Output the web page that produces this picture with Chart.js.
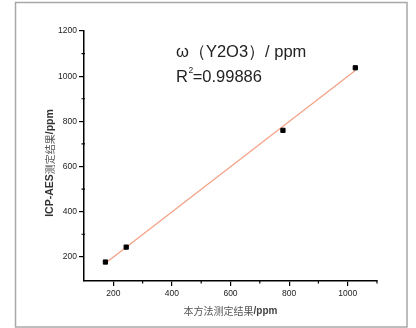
<!DOCTYPE html>
<html>
<head>
<meta charset="utf-8">
<script src="https://cdn.jsdelivr.net/npm/chart.js@4"></script>
<style>
body{margin:0;background:#fff;}
canvas{display:block;}
</style>
</head>
<body>
<canvas id="fitChart" width="416" height="328"></canvas>
<script>
// 本方法测定结果 (x) vs ICP-AES测定结果 (y), ppm
var methodVals = [173, 244, 779, 1026];
var icpVals = [177, 243, 760, 1037];
// fitted line ends
var fitX = [173, 1026];
var fitY = [172, 1025];
var xTicks = [200, 400, 600, 800, 1000];
var yTicks = [200, 400, 600, 800, 1000, 1200];
var xMinor = [300, 500, 700, 900, 1100];
var yMinor = [300, 500, 700, 900, 1100];

var sans = "'Liberation Sans', Arial, sans-serif";
var cjk = "'Noto Sans CJK SC', sans-serif";

// draws a run of differently styled text pieces centred on x
function drawParts(ctx, parts, x, y) {
  var total = 0;
  parts.forEach(p => { ctx.font = p.font; p.w = ctx.measureText(p.text).width; total += p.w; });
  var cx = x - total / 2;
  parts.forEach(p => {
    ctx.font = p.font;
    ctx.fillStyle = p.color;
    ctx.fillText(p.text, cx, y);
    cx += p.w;
  });
}

var extras = {
  id: 'extras',
  beforeDraw(chart) {
    var ctx = chart.ctx;
    ctx.save();
    ctx.strokeStyle = '#a8a8a8';
    ctx.lineWidth = 1.5;
    ctx.strokeRect(15.5, 2.5, 391.5, 324.5);
    ctx.restore();
  },
  afterDraw(chart) {
    var ctx = chart.ctx, xs = chart.scales.x, ys = chart.scales.y;
    var ax = xs.left, ay = ys.bottom;
    ctx.save();
    // minor ticks
    ctx.strokeStyle = '#000';
    ctx.lineWidth = 1.2;
    ctx.beginPath();
    yMinor.forEach(v => { var py = ys.getPixelForValue(v); ctx.moveTo(ax - 2.5, py); ctx.lineTo(ax + 1, py); });
    xMinor.forEach(v => { var px = xs.getPixelForValue(v); ctx.moveTo(px, ay - 1); ctx.lineTo(px, ay + 2.5); });
    ctx.stroke();

    ctx.textBaseline = 'middle';
    drawParts(ctx, [
      {text: '本方法测定结果', font: '10px ' + cjk, color: '#555'},
      {text: '/ppm', font: 'bold 10px ' + sans, color: '#444'}
    ], (xs.left + xs.right) / 2, 311);

    ctx.save();
    ctx.translate(50, 163);
    ctx.rotate(-Math.PI / 2);
    drawParts(ctx, [
      {text: 'ICP-AES', font: 'bold 10.5px ' + sans, color: '#333'},
      {text: '测定结果', font: '10px ' + cjk, color: '#555'},
      {text: '/ppm', font: 'bold 10.5px ' + sans, color: '#333'}
    ], 0, 0);
    ctx.restore();

    // annotation
    ctx.textBaseline = 'alphabetic';
    ctx.textAlign = 'left';
    ctx.fillStyle = '#222';
    ctx.font = '16.5px ' + sans;
    ctx.fillText('ω（Y2O3）/ ppm', 176, 57);
    ctx.fillText('R', 176, 81.5);
    var rw = ctx.measureText('R').width;
    ctx.font = '8.5px ' + sans;
    ctx.fillText('2', 176 + rw + 0.5, 73);
    var sw = ctx.measureText('2').width;
    ctx.font = '16.5px ' + sans;
    ctx.fillText('=0.99886', 176 + rw + sw, 81.5);
    ctx.restore();
  }
};

var points = methodVals.map((v, i) => ({x: v, y: icpVals[i]}));
var fitLine = fitX.map((v, i) => ({x: v, y: fitY[i]}));

var ctx = document.getElementById('fitChart').getContext('2d');
var chart = new Chart(ctx, {
  type: 'scatter',
  data: {
    datasets: [{
      label: 'data',
      data: points,
      pointStyle: 'rect',
      pointRadius: 3,
      borderWidth: 1,
      backgroundColor: '#000',
      borderColor: '#000'
    }, {
      label: 'fit',
      data: fitLine,
      showLine: true,
      pointRadius: 0,
      borderColor: '#f4a286',
      borderWidth: 1.3,
      fill: false
    }]
  },
  options: {
    responsive: false,
    animation: false,
    devicePixelRatio: 1,
    layout: {padding: {top: 31, right: 39, left: 0, bottom: 0}},
    plugins: {legend: {display: false}, tooltip: {enabled: false}},
    scales: {
      x: {
        type: 'linear',
        min: 100,
        max: 1100,
        afterBuildTicks: s => { s.ticks = xTicks.map(v => ({value: v})); },
        afterFit: s => { s.height = 47; },
        grid: {drawOnChartArea: false, color: '#000', tickLength: 5, lineWidth: 1.2},
        border: {color: '#000', width: 1.5},
        ticks: {font: {family: sans, size: 8.5}, color: '#222', padding: 3, maxRotation: 0, autoSkip: false,
          callback: v => String(v)}
      },
      y: {
        type: 'linear',
        min: 93,
        max: 1200,
        afterBuildTicks: s => { s.ticks = yTicks.map(v => ({value: v})); },
        afterFit: s => { s.width = 84; },
        grid: {drawOnChartArea: false, color: '#000', tickLength: 5, lineWidth: 1.2},
        border: {color: '#000', width: 1.5},
        ticks: {font: {family: sans, size: 8.5}, color: '#222', padding: 2, autoSkip: false,
          callback: v => String(v)}
      }
    }
  },
  plugins: [extras]
});
</script>
</body>
</html>
